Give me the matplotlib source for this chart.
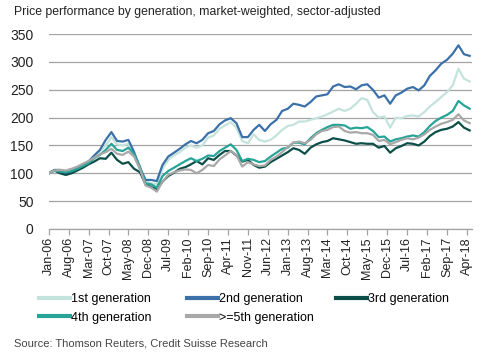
import matplotlib
matplotlib.use("Agg")
import matplotlib.pyplot as plt
import matplotlib.dates as mdates
from matplotlib.lines import Line2D
import pandas as pd

# bimonthly readings, Jan-06 .. May-18
start = "2006-01-01"
n_points = 75

gen1 = [100, 104, 104, 98, 103, 108, 114, 119, 130, 139, 150, 165, 152, 150, 153, 132,
        106, 86, 82, 80, 108, 124, 132, 138, 146, 150, 146, 150, 164, 168, 180, 186,
        192, 182, 158, 154, 170, 160, 157, 160, 168, 178, 185, 187, 193, 193, 196, 199,
        202, 206, 211, 216, 212, 216, 225, 235, 232, 210, 200, 202, 182, 200, 199, 203,
        204, 202, 210, 220, 228, 237, 246, 258, 288, 270, 265]
gen2 = [100, 106, 106, 99, 104, 110, 116, 121, 132, 142, 160, 174, 158, 157, 160, 138,
        110, 88, 88, 86, 115, 130, 137, 144, 152, 158, 154, 160, 172, 176, 188, 195,
        199, 190, 165, 165, 178, 187, 176, 188, 196, 212, 216, 225, 223, 220, 228, 238,
        240, 242, 256, 260, 255, 256, 251, 258, 260, 250, 236, 240, 225, 240, 245, 252,
        255, 249, 258, 275, 285, 297, 304, 315, 330, 314, 311]
gen3 = [100, 105, 100, 97, 100, 105, 110, 116, 121, 127, 126, 137, 124, 117, 120, 108,
        102, 80, 75, 72, 85, 95, 101, 108, 111, 116, 122, 116, 127, 124, 133, 140,
        140, 132, 121, 124, 115, 110, 112, 120, 126, 132, 138, 145, 142, 135, 146, 152,
        156, 158, 163, 161, 159, 156, 153, 154, 153, 153, 146, 149, 137, 145, 149, 154,
        153, 150, 157, 167, 174, 178, 180, 184, 192, 182, 177]
gen4 = [100, 105, 103, 102, 104, 108, 113, 118, 127, 133, 142, 153, 142, 140, 146, 135,
        112, 82, 80, 74, 95, 104, 110, 116, 122, 127, 122, 126, 132, 131, 140, 146,
        152, 142, 122, 126, 124, 120, 122, 130, 137, 144, 146, 155, 155, 152, 163, 172,
        178, 183, 187, 187, 186, 180, 182, 181, 183, 176, 165, 166, 157, 161, 163, 166,
        168, 166, 174, 185, 194, 200, 205, 212, 230, 222, 216]
gen5 = [100, 105, 106, 105, 108, 112, 117, 122, 128, 134, 138, 144, 135, 133, 139, 130,
        108, 78, 74, 67, 85, 97, 102, 105, 107, 106, 100, 106, 115, 113, 125, 132,
        140, 133, 112, 120, 116, 113, 114, 124, 130, 138, 147, 155, 157, 154, 160, 170,
        176, 178, 183, 184, 176, 173, 174, 172, 172, 169, 158, 160, 152, 156, 160, 163,
        161, 164, 170, 178, 184, 189, 192, 196, 206, 195, 190]

names = ["1st generation", "2nd generation", "3rd generation",
         "4th generation", ">=5th generation"]
colors = ["#c4e3dc", "#3b70a9", "#0c4f49", "#26a497", "#a8a8a8"]
series = [gen1, gen2, gen3, gen4, gen5]

dates = pd.date_range(start, periods=n_points, freq="2MS")
tick_dates = pd.date_range("2006-01-01", "2018-04-01", freq="7MS")

plt.rcParams["font.family"] = ["Liberation Sans", "DejaVu Sans"]

fig = plt.figure(figsize=(4.84, 3.56), dpi=100)
ax = fig.add_axes([0.101, 0.357, 0.874, 0.547])

for g, c in zip(series, colors):
    ax.plot(dates, g, color=c, lw=1.6, solid_joinstyle="round")

ax.set_ylim(0, 350)
ax.set_yticks(range(0, 351, 50))
ax.set_xlim(pd.Timestamp("2006-01-01"), pd.Timestamp("2018-05-25"))
ax.set_xticks(tick_dates)
ax.xaxis.set_major_formatter(mdates.DateFormatter("%b-%y"))
ax.grid(axis="y", color="#a3a3a3", lw=0.9)
ax.set_axisbelow(True)
for s in ["top", "right", "left"]:
    ax.spines[s].set_visible(False)
ax.spines["bottom"].set_color("#a3a3a3")
ax.spines["bottom"].set_linewidth(0.9)
ax.tick_params(axis="y", length=0, pad=11, labelsize=10, labelcolor="#222222")
ax.tick_params(axis="x", length=4, color="#a3a3a3", width=0.9, pad=2,
               labelsize=9, labelrotation=90, labelcolor="#222222")

handles = [Line2D([], [], color=c, lw=3) for c in colors]
columns = [([0, 3], 0.080), ([1, 4], 0.386), ([2], 0.694)]
for idx, x0 in columns:
    fig.legend([handles[i] for i in idx], [names[i] for i in idx],
               loc="upper left", bbox_to_anchor=(x0, 0.177), frameon=False,
               fontsize=9, handlelength=2.5, handletextpad=0.1,
               labelspacing=0.55, borderaxespad=0, borderpad=0)

fig.text(0.029, 0.966, "Price performance by generation, market-weighted, sector-adjusted",
         fontsize=8.8, color="#222222", va="center")
fig.text(0.029, 0.034, "Source: Thomson Reuters, Credit Suisse Research",
         fontsize=8, color="#444444", va="center")

fig.savefig("out.png", dpi=100)
